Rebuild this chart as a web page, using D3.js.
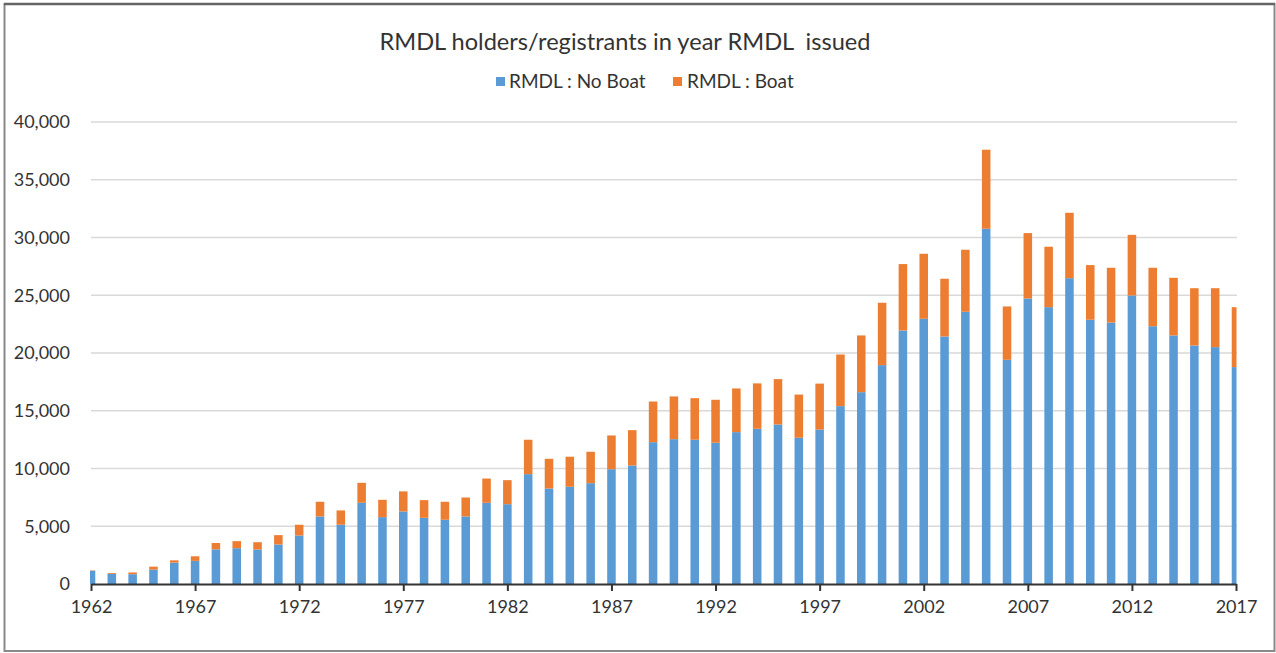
<!DOCTYPE html>
<html><head><meta charset="utf-8">
<script src="https://cdn.jsdelivr.net/npm/d3@7"></script>
<style>
html,body{margin:0;padding:0;background:#fff;}
svg{display:block;font-family:Lato,"Open Sans",sans-serif;}
</style></head>
<body>
<svg id="chart" width="1276" height="653"></svg>
<script>
const years = d3.range(1962, 2018);
const noBoat = [1150,880,850,1250,1850,2000,3000,3100,2990,3420,
  4200,5850,5130,7030,5790,6280,5730,5560,5850,7030,
  6910,9510,8270,8420,8730,9940,10260,12280,12540,12490,
  12230,13150,13440,13810,12660,13370,15400,16610,18950,21950,
  22960,21430,23570,30760,19410,24720,23970,26480,22880,22640,
  24980,22320,21520,20650,20510,18780];
const boat = [30,70,150,250,200,400,550,610,630,810,
  930,1270,1240,1730,1500,1740,1530,1560,1640,2100,
  2080,2980,2570,2600,2720,2920,3060,3520,3700,3600,
  3720,3780,3930,3930,3740,3980,4470,4910,5400,5750,
  5630,5000,5370,6840,4620,5660,5230,5660,4730,4740,
  5250,5060,4990,4960,5100,5190];
const yTicks = [0,5000,10000,15000,20000,25000,30000,35000,40000];
const xTicks = [1962,1967,1972,1977,1982,1987,1992,1997,2002,2007,2012,2017];
const seriesNames = ["RMDL : No Boat", "RMDL : Boat"];
const colors = ["#5B9BD5", "#ED7D31"];
const title = "RMDL holders/registrants in year RMDL\u00a0 issued";

const svg = d3.select("#chart");
// frame
svg.append("rect").attr("x",4.5).attr("y",4).attr("width",1270).attr("height",647)
  .attr("fill","none").attr("stroke","#8a8a8a").attr("stroke-width",2);
svg.append("line").attr("x1",4).attr("x2",1275).attr("y1",4).attr("y2",4)
  .attr("stroke","#666").attr("stroke-width",2.5);

const x = d3.scaleLinear().domain([1962, 2017]).range([91, 1236]);
const y = d3.scaleLinear().domain([0, 40000]).range([584, 122]);
const step = x(1963) - x(1962);
const bw = step * 0.41;

// gridlines
svg.append("g").selectAll("line").data(yTicks.filter(d => d > 0)).join("line")
  .attr("x1", 91).attr("x2", 1237)
  .attr("y1", d => y(d)).attr("y2", d => y(d))
  .attr("stroke", "#d9d9d9").attr("stroke-width", 1.3);

// y labels
svg.append("g").selectAll("text").data(yTicks).join("text")
  .attr("x", 70).attr("y", d => y(d)).attr("dy", "0.36em")
  .attr("text-anchor", "end").attr("font-size", 18).attr("fill", "#333")
  .text(d => d3.format(",")(d));

// bars
svg.append("defs").append("clipPath").attr("id","clip")
  .append("rect").attr("x", 90).attr("y", 100).attr("width", 1146.5).attr("height", 490);
const stackData = years.map((yr, i) => ({year: yr, a: noBoat[i], b: boat[i]}));
const stack = d3.stack().keys(["a","b"])(stackData);
svg.append("g").attr("clip-path","url(#clip)")
  .selectAll("g").data(stack).join("g").attr("fill", (d, i) => colors[i])
  .selectAll("rect").data(d => d).join("rect")
  .attr("x", d => x(d.data.year) - bw/2).attr("width", bw)
  .attr("y", d => y(d[1])).attr("height", d => y(d[0]) - y(d[1]));

// x axis
const xAxis = d3.axisBottom(x).tickValues(xTicks).tickFormat(d3.format("d")).tickSize(7).tickSizeOuter(0);
const gx = svg.append("g").attr("transform", "translate(0,584)").call(xAxis);
gx.select(".domain").attr("stroke", "#333").attr("stroke-width", 2);
gx.selectAll(".tick line").attr("stroke", "#333").attr("stroke-width", 2);
gx.selectAll(".tick text").attr("font-size", 18).attr("fill", "#333").attr("font-family", "Lato").attr("dy", "1.05em");

// title
svg.append("text").attr("x", 625).attr("y", 50).attr("text-anchor", "middle")
  .attr("font-size", 23.6).attr("fill", "#333").text(title);

// legend
const leg = [{x: 496, tx: 509}, {x: 673, tx: 687}];
seriesNames.forEach((n, i) => {
  svg.append("rect").attr("x", leg[i].x).attr("y", 77).attr("width", 9).attr("height", 9).attr("fill", colors[i]);
  svg.append("text").attr("x", leg[i].tx).attr("y", 88).attr("font-size", 19).attr("fill", "#333").text(n);
});
</script>
</body></html>
